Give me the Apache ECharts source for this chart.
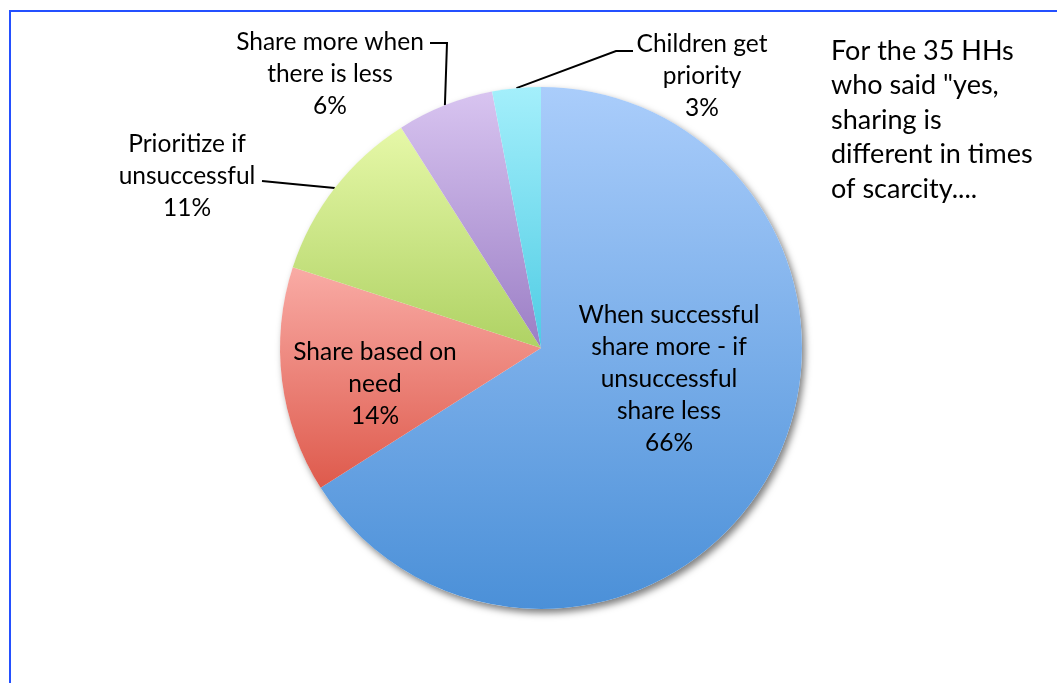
<!DOCTYPE html>
<html>
<head>
<meta charset="utf-8">
<title>Sharing in times of scarcity</title>
<script src="https://cdn.jsdelivr.net/npm/echarts@6/dist/echarts.min.js"></script>
<style>
  html, body { margin: 0; padding: 0; background: #ffffff; }
  #chart { width: 1057px; height: 683px; }
</style>
</head>
<body>
<div id="chart"></div>
<script>
// Answers from the 35 households, in percent
const categories = [
  'When successful\nshare more - if\nunsuccessful\nshare less',
  'Share based on\nneed',
  'Prioritize if\nunsuccessful',
  'Share more when\nthere is less',
  'Children get\npriority'
];
const shares = [66, 14, 11, 6, 3];
const noteText = 'For the 35 HHs\nwho said "yes,\nsharing is\ndifferent in times\nof scarcity....';

// Slice fills: light at the top, deeper at the bottom
const sliceGradients = [
  ['#aacdfb', '#4b90d8'],
  ['#f9aba5', '#de5a4c'],
  ['#e6f8a8', '#afd264'],
  ['#d8c4f0', '#9b7ec5'],
  ['#a4effb', '#4fcce4']
];
// Which labels sit inside their slice
const insideLabel = [true, true, false, false, false];

// Label centres and leader-line bends (layout only)
const labelAt = [[669, 379], [375, 384], [187, 176], [330, 74], [702, 76]];
const leaderBends = [null, null, [[298, 184.5], [262, 181]], [[447, 43], [430, 43]], [[616, 51], [633, 51]]];

const FONT = 'Lato';
const chart = echarts.init(document.getElementById('chart'), null, { renderer: 'canvas' });

const pieData = categories.map(function (name, i) {
  return {
    name: name,
    value: shares[i],
    itemStyle: {
      color: {
        type: 'linear', x: 0, y: 0, x2: 0, y2: 1,
        colorStops: [
          { offset: 0, color: sliceGradients[i][0] },
          { offset: 1, color: sliceGradients[i][1] }
        ]
      }
    },
    label: { position: insideLabel[i] ? 'inside' : 'outside' },
    labelLine: { show: !insideLabel[i] }
  };
});

chart.setOption({
  backgroundColor: '#ffffff',
  animation: false,
  graphic: [
    { type: 'line', shape: { x1: 10, y1: 10, x2: 10, y2: 683 }, style: { stroke: '#2450ff', lineWidth: 2 } },
    { type: 'line', shape: { x1: 9, y1: 11, x2: 1057, y2: 11 }, style: { stroke: '#2450ff', lineWidth: 2 } },
    {
      type: 'text', left: 831, top: 34,
      style: { text: noteText, font: '27px ' + FONT, fill: '#000', lineHeight: 34.5 }
    }
  ],
  series: [
    {
      // soft drop shadow under the whole pie
      type: 'pie',
      silent: true,
      center: [541, 348],
      radius: 261,
      label: { show: false },
      labelLine: { show: false },
      data: [{
        value: 1,
        itemStyle: {
          color: '#ffffff',
          shadowBlur: 7,
          shadowOffsetX: 3,
          shadowOffsetY: 4,
          shadowColor: 'rgba(0,0,0,0.5)'
        }
      }],
      z: 1
    },
    {
      type: 'pie',
      center: [541, 348],
      radius: 261,
      startAngle: 90,
      clockwise: true,
      avoidLabelOverlap: false,
      itemStyle: { borderWidth: 0 },
      emphasis: { disabled: true },
      label: {
        show: true,
        formatter: '{b}\n{d}%',
        fontFamily: FONT,
        fontSize: 24.5,
        lineHeight: 32,
        color: '#000',
        align: 'center'
      },
      labelLine: { lineStyle: { color: '#000', width: 2 } },
      labelLayout: function (p) {
        const pos = labelAt[p.dataIndex];
        const out = { x: pos[0], y: pos[1], align: 'center', verticalAlign: 'middle' };
        const bends = leaderBends[p.dataIndex];
        if (bends && p.labelLinePoints) {
          out.labelLinePoints = [p.labelLinePoints[0], bends[0], bends[1]];
        }
        return out;
      },
      data: pieData,
      z: 2
    }
  ]
});
</script>
</body>
</html>
